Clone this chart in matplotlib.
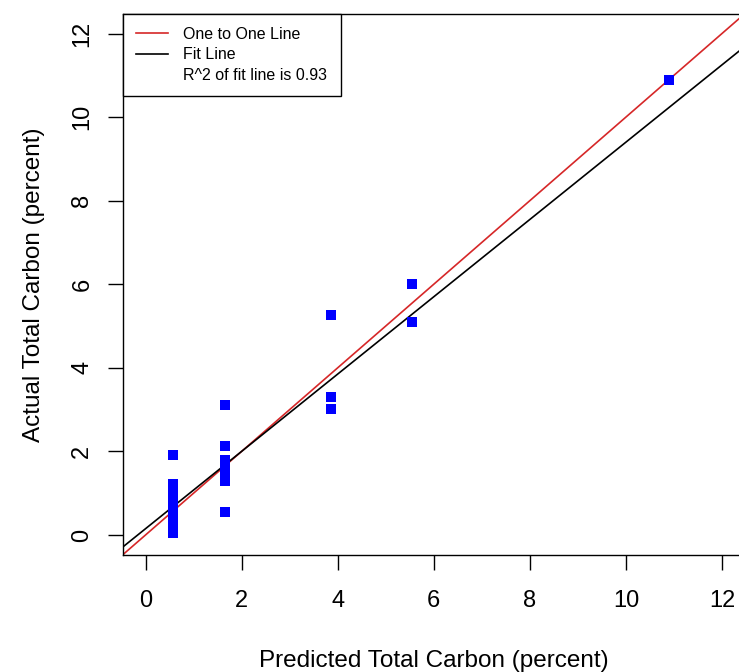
import matplotlib
matplotlib.use("Agg")
import matplotlib.pyplot as plt
from matplotlib.lines import Line2D

plt.rcParams['font.family'] = ['Liberation Sans', 'DejaVu Sans']

# predicted vs actual total carbon (percent)
predicted = [0.57] * 14 + [1.65] * 8 + [3.86] * 3 + [5.55] * 2 + [10.9]
actual = [0.05, 0.12, 0.22, 0.32, 0.42, 0.52, 0.62, 0.72, 0.82, 0.92, 1.02, 1.12, 1.22, 1.91,
          3.12, 2.12, 1.80, 1.65, 1.52, 1.40, 1.28, 0.55,
          5.27, 3.31, 3.02,
          6.00, 5.10,
          10.90]

fit_intercept = 0.15
fit_slope = 0.925
r_squared = 0.93

ticks = [0, 2, 4, 6, 8, 10, 12]

fig = plt.figure(figsize=(7.39, 6.72), dpi=100)
# axes runs a little past the right edge, as in the cropped original
ax = fig.add_axes([122.5 / 739, (672 - 555) / 672, (745 - 122.5) / 739, (555 - 13.5) / 672])

ax.scatter(predicted, actual, marker='s', s=62, color='#0000FF', linewidths=0, zorder=3)
ax.axline((0, 0), slope=1, color='#D62728', lw=1.2, zorder=2)
ax.axline((0, fit_intercept), slope=fit_slope, color='black', lw=1.2, zorder=2)

ax.set_xlim(-0.48, 12.48)
ax.set_ylim(-0.48, 12.48)
ax.set_xticks(ticks)
ax.set_yticks(ticks)
ax.tick_params(direction='out', length=10.5, width=1, labelsize=17)
ax.tick_params(axis='x', pad=15)
ax.tick_params(axis='y', pad=10.5)
for lab in ax.get_yticklabels():
    lab.set_rotation(90)
    lab.set_va('center')

for s in ax.spines.values():
    s.set_linewidth(1)

ax.set_xlabel('Predicted Total Carbon (percent)', fontsize=17.5, labelpad=27)
ax.set_ylabel('Actual Total Carbon (percent)', fontsize=17.5, labelpad=19)

handles = [Line2D([], [], color='#D62728', lw=1.2),
           Line2D([], [], color='black', lw=1.2),
           Line2D([], [], color='none')]
labels = ['One to One Line', 'Fit Line', f'R^2 of fit line is {r_squared}']
leg = ax.legend(handles, labels, loc='upper left', bbox_to_anchor=(0, 1), borderaxespad=0,
                fontsize=11.5, fancybox=False, edgecolor='black', framealpha=1,
                handlelength=2.0, handletextpad=0.95, labelspacing=0.33, borderpad=0.85)
leg.get_frame().set_linewidth(1)

fig.savefig('out.png', dpi=100)
